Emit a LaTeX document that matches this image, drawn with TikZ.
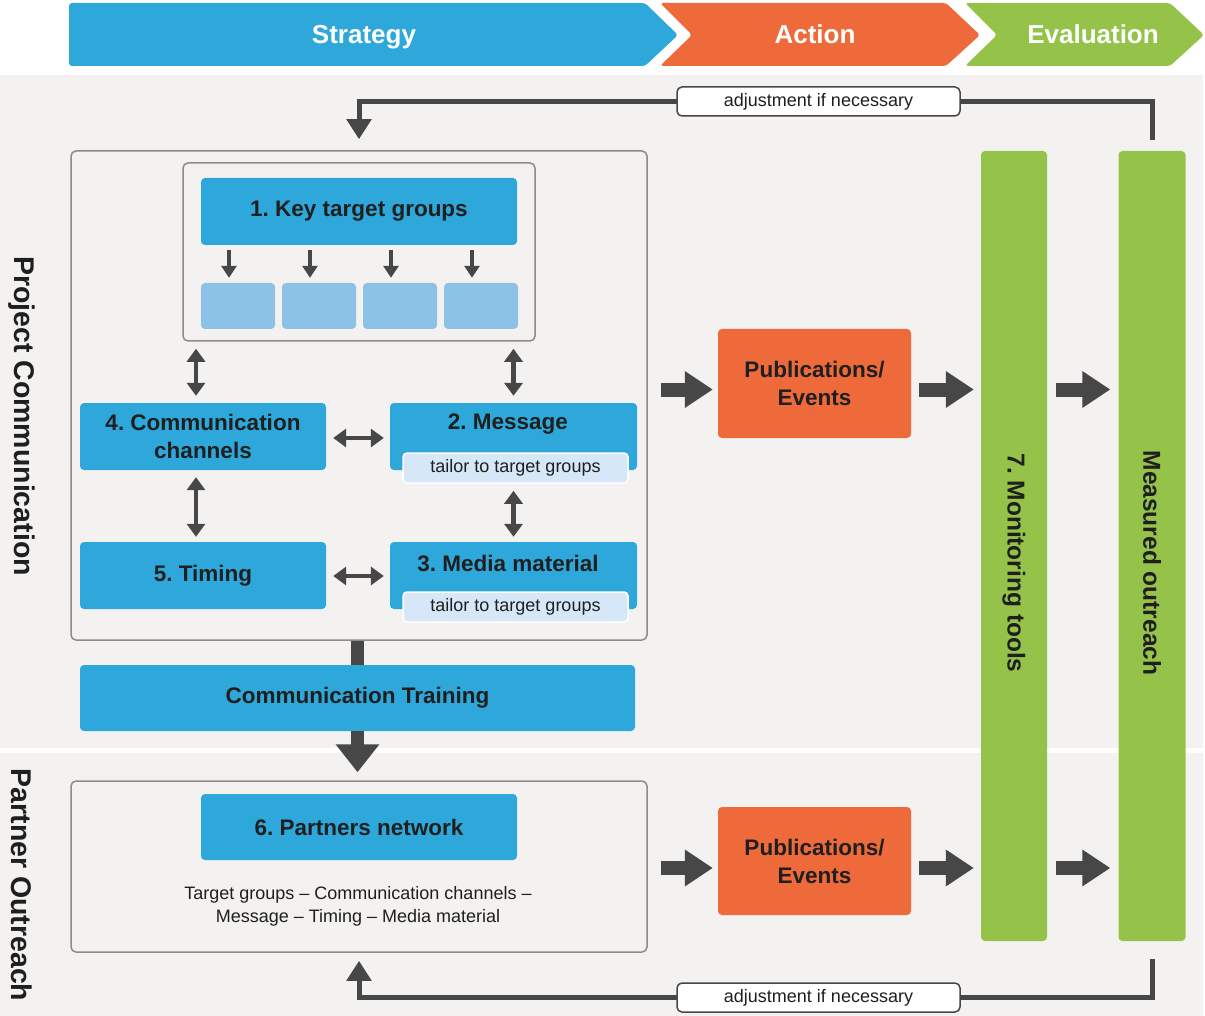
\documentclass[tikz,border=0pt]{standalone}
\usepackage{fontspec}
\setmainfont{Liberation Sans}
\usetikzlibrary{arrows.meta}
\definecolor{blueC}{HTML}{2EA8DA}
\definecolor{lightB}{HTML}{8CC2E6}
\definecolor{paleB}{HTML}{D6E8F7}
\definecolor{orangeC}{HTML}{EE6A3A}
\definecolor{greenC}{HTML}{95C34A}
\definecolor{bgC}{HTML}{F3F2F0}
\definecolor{darkC}{HTML}{474747}
\definecolor{borderC}{HTML}{8C8C8C}
\definecolor{txtC}{HTML}{1F1F1F}
\begin{document}
\frenchspacing
\begin{tikzpicture}[x=1pt,y=-1pt,
  bigf/.style={font=\bfseries\fontsize{22.5}{28}\selectfont},
  bluebox/.style={fill=blueC, rounded corners=4pt, bigf, text=txtC, align=center, inner sep=0pt},
  btext/.style={bigf, text=txtC, inner sep=0pt},
  tbox/.style={fill=lightB, rounded corners=4pt, minimum width=74pt, minimum height=46pt, inner sep=0pt},
  subbox/.style={fill=paleB, draw=white, line width=1.5pt, rounded corners=4pt, text=txtC, inner sep=0pt,
     font=\fontsize{18}{22}\selectfont, minimum width=225pt, minimum height=30pt},
  frame/.style={draw=borderC, line width=1.5pt, rounded corners=5pt, fill=bgC, inner sep=0pt},
  pubbox/.style={fill=orangeC, rounded corners=4pt, bigf, text=txtC, align=center, inner sep=0pt,
     minimum width=193pt, minimum height=109pt},
  greenbar/.style={fill=greenC, rounded corners=4pt, inner sep=0pt, minimum height=790pt},
  vtext/.style={rotate=-90, font=\bfseries\fontsize{24.5}{28}\selectfont, text=txtC, inner sep=0pt},
  sidetext/.style={rotate=-90, font=\bfseries\fontsize{28.5}{32}\selectfont, text=txtC, inner sep=0pt},
  headtext/.style={font=\bfseries\fontsize{26}{30}\selectfont, text=white, inner sep=0pt, anchor=base},
  adjbox/.style={fill=white, draw=darkC, line width=1.5pt, rounded corners=5pt, text=txtC,
     font=\fontsize{18}{22}\selectfont, minimum width=283pt, minimum height=29pt, inner sep=0pt},
  dbl/.style={draw=darkC, line width=4.5pt, {Triangle[length=13pt,width=18pt]}-{Triangle[length=13pt,width=18pt]}},
  small/.style={draw=darkC, line width=4pt, -{Triangle[length=12pt,width=15pt]}, shorten <=5pt, shorten >=5pt},
  fat/.style={draw=darkC, line width=14pt, -{Triangle[length=28pt,width=35pt]}},
  fb/.style={draw=darkC, line width=5pt, -{Triangle[length=20pt,width=24pt]}}
]
\useasboundingbox (0,0) rectangle (1205,1016);
% backgrounds
\fill[bgC] (0,75) rectangle (1203,748);
\fill[bgC] (0,753) rectangle (1203,1016);
% header chevrons
\fill[blueC, rounded corners=3pt] (69,3) -- (645,3) -- (678,35) -- (645,66) -- (69,66) -- cycle;
\fill[orangeC, rounded corners=3pt] (660,3) -- (946,3) -- (980,35) -- (946,66) -- (660,66) -- (692,35) -- cycle;
\fill[greenC, rounded corners=3pt] (965,3) -- (1170,3) -- (1204,35) -- (1170,66) -- (965,66) -- (997,35) -- cycle;
\node[headtext] (hs) at (364,44) {Strategy};
\node[headtext] (ha) at (815,44) {Action};
\node[headtext] (he) at (1093,44) {Evaluation};
% side labels
\node[sidetext] (lpc) at (22,416) {Project Communication};
\node[sidetext] (lpo) at (22,885) {Partner Outreach};
% upper frame
\node[frame, minimum width=576pt, minimum height=489pt] (outerU) at (359,395.5) {};
\node[frame, minimum width=352pt, minimum height=178pt] (inner) at (359,252) {};
\node[bluebox, minimum width=316pt, minimum height=67pt] (k1) at (359,211.5) {1. Key target groups};
\foreach \n/\x in {1/238,2/319,3/400,4/481} {
  \node[tbox] (t\n) at (\x,306) {};
  \draw[small] ([xshift=-9pt]t\n.north |- k1.south) -- ([xshift=-9pt]t\n.north);
}
\node[bluebox, minimum width=246pt, minimum height=67pt] (b4) at (203,436.5) {4. Communication\\channels};
\node[bluebox, minimum width=247pt, minimum height=67pt] (b2) at (513.5,436.5) {};
\node[btext] (b2t) at (508,424) {2. Message};
\node[subbox] (s2) at (515.5,468) {tailor to target groups};
\node[bluebox, minimum width=246pt, minimum height=67pt] (b5) at (203,575.5) {5. Timing};
\node[bluebox, minimum width=247pt, minimum height=67pt] (b3) at (513.5,575.5) {};
\node[btext] (b3t) at (508,563) {3. Media material};
\node[subbox] (s3) at (515.5,607) {tailor to target groups};
% double arrows
\draw[dbl, shorten <=7pt, shorten >=7pt] ([xshift=-7pt]b4.north |- inner.south) -- ([xshift=-7pt]b4.north);
\draw[dbl, shorten <=7pt, shorten >=7pt] (b2.north |- inner.south) -- (b2.north);
\draw[dbl, shorten <=7pt, shorten >=5pt] ([xshift=-7pt]b4.south) -- ([xshift=-7pt]b5.north);
\draw[dbl, shorten <=7pt, shorten >=5pt] (b2.south |- s2.south) -- (b3.north);
\draw[dbl, shorten <=7pt, shorten >=6pt] ([yshift=-1.5pt]b4.east) -- ([yshift=-1.5pt]b4.east -| b2.west);
\draw[dbl, shorten <=7pt, shorten >=6pt] ([yshift=-0.5pt]b5.east) -- ([yshift=-0.5pt]b5.east -| b3.west);
% training
\node[bluebox, minimum width=555pt, minimum height=66pt] (train) at (357.5,698) {Communication Training};
\draw[draw=darkC, line width=13pt] (outerU.south -| train.north) -- (train.north);
% lower frame
\node[frame, minimum width=576pt, minimum height=171pt] (outerL) at (359,866.5) {};
\draw[draw=darkC, line width=13pt, -{Triangle[length=28pt,width=42pt]}, shorten >=8pt] (train.south) -- (train.south |- outerL.north);
\node[bluebox, minimum width=316pt, minimum height=66pt] (b6) at (359,827) {6. Partners network};
\node[text=txtC, font=\fontsize{18}{23}\selectfont, align=center, inner sep=0pt] (desc) at (358,906)
  {Target groups -- Communication channels --\\Message -- Timing -- Media material};
% action boxes
\node[pubbox] (pub1) at (814.5,383.5) {Publications/\\Events};
\node[pubbox, minimum height=108pt] (pub2) at (814.5,861) {Publications/\\Events};
% evaluation bars
\node[greenbar, minimum width=66pt] (g1) at (1014,546) {};
\node[greenbar, minimum width=67pt] (g2) at (1152,546) {};
\node[vtext] (g1t) at (1014,563) {7. Monitoring tools};
\node[vtext] (g2t) at (1152,563) {Measured outreach};
% fat arrows
\coordinate (r1) at ([yshift=-6pt]pub1.center);
\coordinate (r2) at ([yshift=-7pt]pub2.center);
\draw[fat, shorten <=13pt, shorten >=5pt] (outerU.east |- r1) -- (pub1.west |- r1);
\draw[fat, shorten <=8pt, shorten >=7pt] (pub1.east |- r1) -- (g1.west |- r1);
\draw[fat, shorten <=9pt, shorten >=8pt] (g1.east |- r1) -- (g2.west |- r1);
\draw[fat, shorten <=13pt, shorten >=5pt] (outerL.east |- r2) -- (pub2.west |- r2);
\draw[fat, shorten <=8pt, shorten >=7pt] (pub2.east |- r2) -- (g1.west |- r2);
\draw[fat, shorten <=9pt, shorten >=8pt] (g1.east |- r2) -- (g2.west |- r2);
% feedback loops
\coordinate (fb1) at (818.5,101.5);
\coordinate (fb2) at (818.5,997.5);
\draw[fb, line join=miter] ([yshift=11pt]g2.north) -- (g2.north |- fb1) -- (outerU.north |- fb1) -- ([yshift=11pt]outerU.north);
\draw[fb, line join=miter] ([yshift=-18pt]g2.south) -- (g2.south |- fb2) -- (outerL.south |- fb2) -- ([yshift=-8pt]outerL.south);
\node[adjbox] (adj1) at (fb1) {adjustment if necessary};
\node[adjbox] (adj2) at (fb2) {adjustment if necessary};
\end{tikzpicture}
\end{document}
